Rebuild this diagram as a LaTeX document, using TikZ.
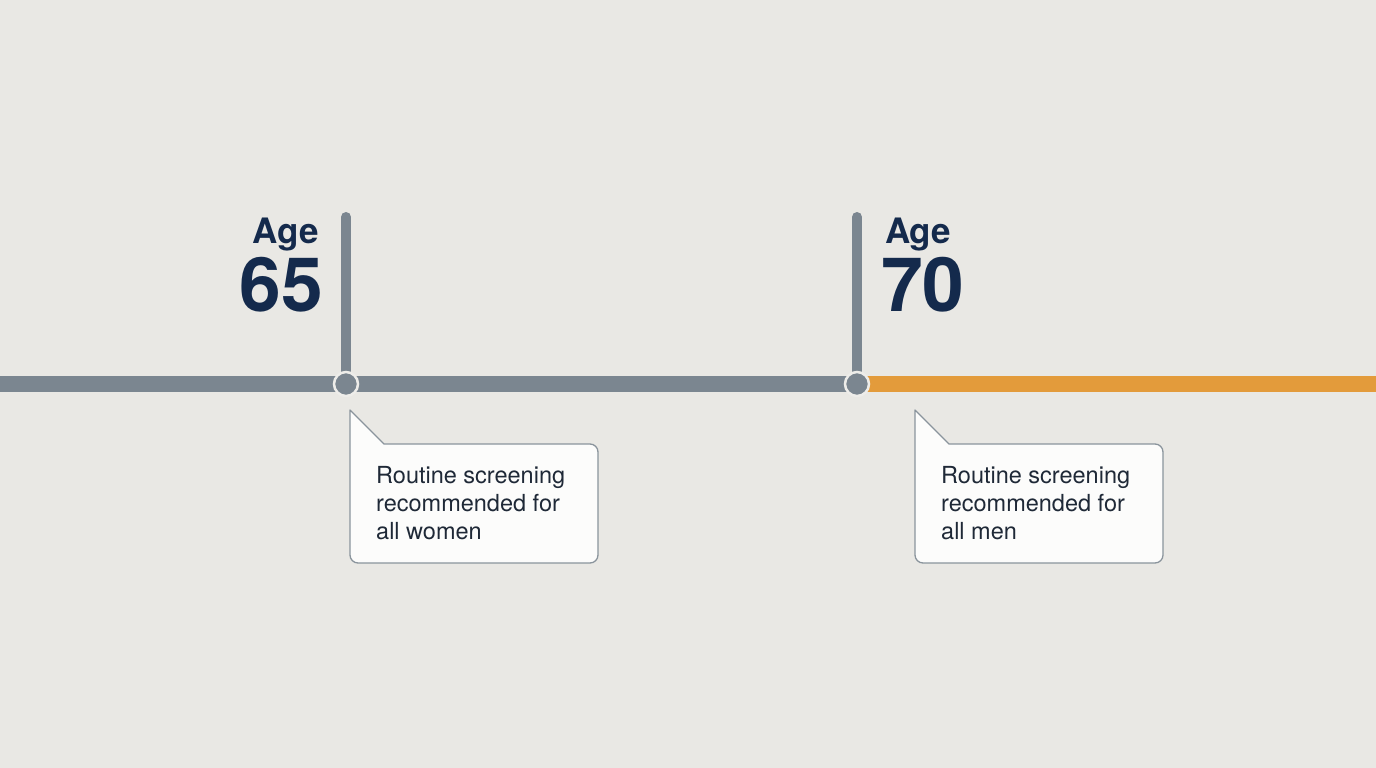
\documentclass[tikz,border=0pt]{standalone}
\usepackage{fontspec}
\setmainfont{TeX Gyre Heros}
\definecolor{bgc}{HTML}{E9E8E4}
\definecolor{tlgray}{HTML}{7B8690}
\definecolor{tlorange}{HTML}{E39B3B}
\definecolor{navy}{HTML}{142A4C}
\definecolor{txt}{HTML}{1F2937}
\definecolor{boxline}{HTML}{8A949C}
\definecolor{boxfill}{HTML}{FCFCFB}
\definecolor{ring}{HTML}{EEEDEA}
\tikzset{
  tl/.style={line width=16pt},
  tick/.style={line width=10pt, line cap=round, draw=tlgray},
  dot/.style={circle, minimum size=24pt, inner sep=0pt, fill=tlgray, draw=ring, line width=2.5pt},
  agelbl/.style={font=\fontsize{35}{35}\selectfont\bfseries, text=navy, inner sep=0pt},
  numlbl/.style={font=\fontsize{75}{75}\selectfont\bfseries, text=navy, inner sep=0pt},
  callout/.style={draw=boxline, fill=boxfill, line width=1.3pt, line join=round},
  calltext/.style={font=\fontsize{23.5}{28}\selectfont, text=txt, align=left, inner sep=0pt},
}
\begin{document}
\begin{tikzpicture}[x=1pt, y=-1pt]
\fill[bgc] (0,0) rectangle (1376,768);
\useasboundingbox (0,0) rectangle (1376,768);
% timeline
\coordinate (tstart) at (0,384);
\coordinate (tend) at (1376,384);
\coordinate (t65) at (346,384);
\coordinate (t70) at (857,384);
\coordinate (top65) at (346,217);
\coordinate (top70) at (857,217);
\draw[tl, tlgray] (tstart) -- (t70);
\draw[tl, tlorange] (t70) -- (tend);
\draw[tick] (top65) -- (t65);
\draw[tick] (top70) -- (t70);
\node[dot] (d65) at (t65) {};
\node[dot] (d70) at (t70) {};
% labels
\node[agelbl, anchor=base east] (age65) at (319,243) {Age};
\node[numlbl, anchor=base east] (num65) at (323,311) {65};
\node[agelbl, anchor=base west] (age70) at (885,243) {Age};
\node[numlbl, anchor=base west] (num70) at (881,311) {70};
% callouts
\draw[callout] (350,425) -- (350,410) -- (384,444) [rounded corners=8pt] -- (598,444) -- (598,563) -- (350,563) -- cycle;
\draw[callout] (915,425) -- (915,410) -- (949,444) [rounded corners=8pt] -- (1163,444) -- (1163,563) -- (915,563) -- cycle;
\node[calltext, anchor=base west] (cw) at (376,539) {Routine screening\\recommended for\\all women};
\node[calltext, anchor=base west] (cm) at (941,539) {Routine screening\\recommended for\\all men};
\end{tikzpicture}
\end{document}
